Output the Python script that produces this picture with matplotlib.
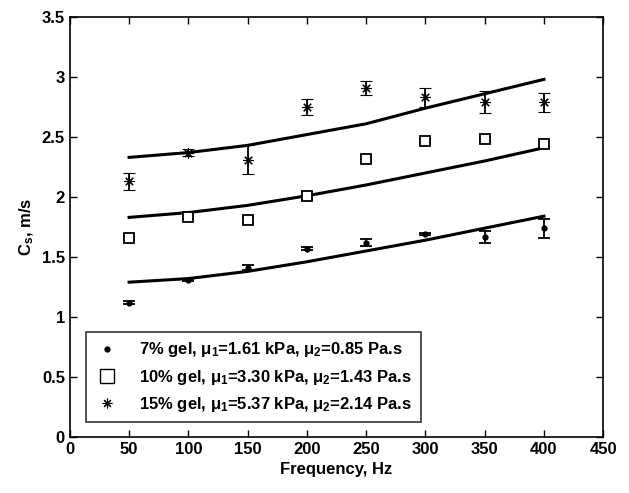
import matplotlib
matplotlib.use("Agg")
import matplotlib.pyplot as plt
from matplotlib.lines import Line2D
import numpy as np

plt.rcParams['font.family'] = ['Liberation Sans', 'DejaVu Sans']
plt.rcParams['font.weight'] = 'bold'
plt.rcParams['mathtext.fontset'] = 'custom'
plt.rcParams['mathtext.rm'] = 'Liberation Sans:bold'
plt.rcParams['mathtext.it'] = 'Liberation Sans:bold'
plt.rcParams['mathtext.bf'] = 'Liberation Sans:bold'

freq = [50, 100, 150, 200, 250, 300, 350, 400]

gel7 = [1.12, 1.31, 1.41, 1.57, 1.62, 1.69, 1.67, 1.74]
gel7_err = [0.01, 0.01, 0.02, 0.01, 0.03, 0.01, 0.05, 0.08]
gel7_fit = [1.29, 1.32, 1.38, 1.46, 1.55, 1.64, 1.74, 1.84]

gel10 = [1.66, 1.83, 1.81, 2.01, 2.32, 2.47, 2.48, 2.44]
gel10_err = [0.01, 0.01, 0.03, 0.03, 0.03, 0.01, 0.02, 0.03]
gel10_fit = [1.83, 1.87, 1.93, 2.01, 2.10, 2.20, 2.30, 2.41]

gel15 = [2.13, 2.37, 2.31, 2.75, 2.91, 2.83, 2.79, 2.79]
gel15_err = [0.07, 0.03, 0.12, 0.07, 0.06, 0.08, 0.09, 0.08]
gel15_fit = [2.33, 2.37, 2.43, 2.52, 2.61, 2.74, 2.86, 2.98]

labels = [r'7% gel, $\mu_1$=1.61 kPa, $\mu_2$=0.85 Pa.s',
          r'10% gel, $\mu_1$=3.30 kPa, $\mu_2$=1.43 Pa.s',
          r'15% gel, $\mu_1$=5.37 kPa, $\mu_2$=2.14 Pa.s']

star = (8, 2, 0)

fig = plt.figure(figsize=(6.29, 4.93), dpi=100)
ax = fig.add_axes([0.111, 0.1136, 0.848, 0.852])

eb = dict(color='black', capsize=4.5, elinewidth=1.3, capthick=1.3, ls='none')
ax.errorbar(freq, gel7, yerr=gel7_err, marker='o', ms=3.5, **eb)
ax.errorbar(freq, gel10, yerr=gel10_err, marker='s', mfc='white', ms=7.5, mew=1.3, **eb)
ax.errorbar(freq, gel15, yerr=gel15_err, marker=star, ms=7.5, mew=0.8, **eb)
ax.plot(freq, gel7_fit, color='black', lw=2.2)
ax.plot(freq, gel10_fit, color='black', lw=2.2)
ax.plot(freq, gel15_fit, color='black', lw=2.2)

ax.set_xlim(0, 450)
ax.set_ylim(0, 3.5)
ax.set_xticks(np.arange(0, 451, 50))
ax.set_yticks(np.arange(0, 3.51, 0.5))
ax.set_yticklabels(['0', '0.5', '1', '1.5', '2', '2.5', '3', '3.5'])
ax.tick_params(direction='in', top=True, right=True, labelsize=12, length=5, width=1)
for s in ax.spines.values():
    s.set_linewidth(1.2)

ax.set_xlabel('Frequency, Hz', fontsize=12, fontweight='bold')
ax.set_ylabel(r'C$_\mathrm{s}$, m/s', fontsize=12, fontweight='bold')

handles = [Line2D([], [], ls='none', marker='o', color='black', ms=3.5),
           Line2D([], [], ls='none', marker='s', color='black', mfc='white', ms=9.5, mew=1.0),
           Line2D([], [], ls='none', marker=star, color='black', ms=7, mew=0.8)]
leg = ax.legend(handles, labels, loc='lower left', bbox_to_anchor=(0.015, 0.015), fontsize=12,
                frameon=True, fancybox=False, edgecolor='black', handletextpad=1.2,
                borderpad=0.5, labelspacing=0.5, handlelength=1.5)
leg.get_frame().set_linewidth(1.2)

fig.savefig('out.png', dpi=100)
